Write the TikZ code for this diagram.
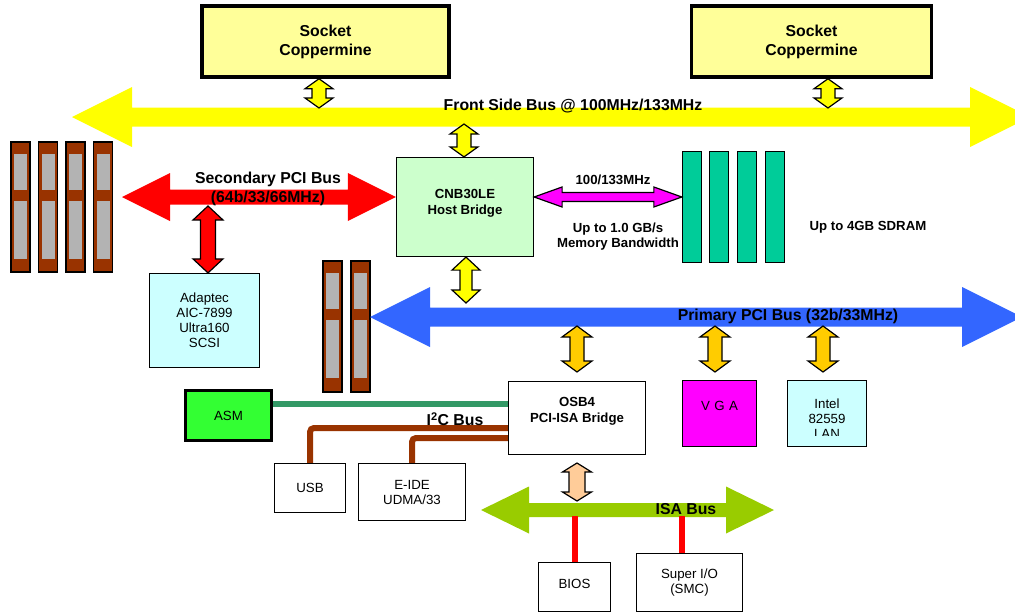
\documentclass[tikz,border=0pt]{standalone}
\usepackage{fontspec}
\setmainfont{Liberation Sans}
\usetikzlibrary{calc}
\definecolor{sockfill}{HTML}{FFFF99}
\definecolor{yel}{HTML}{FFFF00}
\definecolor{cnbgreen}{HTML}{CCFFCC}
\definecolor{busred}{HTML}{FF0000}
\definecolor{mag}{HTML}{FF00FF}
\definecolor{memgreen}{HTML}{00CC99}
\definecolor{slotbrown}{HTML}{993300}
\definecolor{slotgray}{HTML}{B3B3B3}
\definecolor{cyanbox}{HTML}{CCFFFF}
\definecolor{pciblue}{HTML}{3366FF}
\definecolor{orng}{HTML}{FFCC00}
\definecolor{asmgreen}{HTML}{33FF33}
\definecolor{i2cgreen}{HTML}{339966}
\definecolor{peach}{HTML}{FFCC99}
\definecolor{isagreen}{HTML}{99CC00}
% vertical double block arrow: #1 top, #2 bottom, #3 style, #4 half shaft, #5 half head, #6 head length
\newcommand{\vdarr}[6]{%
  \path[draw=black,line width=1.2pt,line join=miter,#3] let \p1=(#1), \p2=(#2) in
  (\x1,\y1) -- (\x1+#5pt,\y1-#6pt) -- (\x1+#4pt,\y1-#6pt) -- (\x1+#4pt,\y2+#6pt)
  -- (\x1+#5pt,\y2+#6pt) -- (\x1,\y2) -- (\x1-#5pt,\y2+#6pt) -- (\x1-#4pt,\y2+#6pt)
  -- (\x1-#4pt,\y1-#6pt) -- (\x1-#5pt,\y1-#6pt) -- cycle;}
% horizontal double block arrow: #1 left tip, #2 right tip, #3 style, #4 half shaft, #5 half head, #6 head length
\newcommand{\hbus}[6]{%
  \path[#3] let \p1=(#1), \p2=(#2) in
  (\x1,\y1) -- (\x1+#6pt,\y1+#5pt) -- (\x1+#6pt,\y1+#4pt) -- (\x2-#6pt,\y1+#4pt)
  -- (\x2-#6pt,\y1+#5pt) -- (\x2,\y1) -- (\x2-#6pt,\y1-#5pt) -- (\x2-#6pt,\y1-#4pt)
  -- (\x1+#6pt,\y1-#4pt) -- (\x1+#6pt,\y1-#5pt) -- cycle;}
% PCI slot: #1 name, #2 x left, #3 y top, #4 height
\newcommand{\pcislot}[4]{%
  \node[slotnode,minimum height=#4pt,anchor=north west] (#1) at (#2,#3) {};
  \fill[slotgray] ($(#1.north west)+(3,11.5)$) rectangle ($(#1.north east)+(-3,47.5)$);
  \fill[slotgray] ($(#1.north west)+(3,58.5)$) rectangle ($(#1.north east)+(-3,117)$);}
\begin{document}
\begin{tikzpicture}[x=1pt,y=-1pt,
  box/.style={draw=black,line width=1.2pt,inner sep=0pt},
  bigb/.style={font=\fontsize{15.8}{19}\selectfont\bfseries,align=center,inner sep=0pt},
  smb/.style={font=\fontsize{13.2}{16}\selectfont\bfseries,align=center,inner sep=0pt},
  reg/.style={font=\fontsize{13.3}{15}\selectfont,align=center,inner sep=0pt},
  slotnode/.style={draw=black,line width=1.4pt,fill=slotbrown,minimum width=19pt,inner sep=0pt,outer sep=0pt},
  memslot/.style={draw=black,line width=1.3pt,fill=memgreen,minimum width=19pt,minimum height=111pt,inner sep=0pt},
  wire/.style={line width=6pt},
]
\useasboundingbox (0,0) rectangle (1015,613);
\clip (0,0) rectangle (1015,613);

% ---- sockets
\node[box,line width=3.5pt,fill=sockfill,minimum width=247pt,minimum height=71pt,
      font=\fontsize{15.8}{19}\selectfont\bfseries,align=center] (s1) at (325.5,41.5) {Socket\\Coppermine};
\node[box,line width=3.5pt,fill=sockfill,minimum width=240pt,minimum height=71pt,
      font=\fontsize{15.8}{19}\selectfont\bfseries,align=center] (s2) at (811.5,41.5) {Socket\\Coppermine};

% ---- front side bus
\hbus{72,117}{1030,117}{fill=yel}{9.5}{30}{60}
\node[bigb] (fsbl) at (573,106) {Front Side Bus @ 100MHz/133MHz};

% ---- host bridge
\node[box,fill=cnbgreen,minimum width=137pt,minimum height=99pt] (cnb) at (465,207) {};
\node[smb] (cnbt) at ([yshift=3.5pt]cnb.center) {CNB30LE\\Host Bridge};

\vdarr{319,0 |- s1.south}{319,108}{fill=yel}{7}{14}{10}
\vdarr{828,0 |- s2.south}{828,108}{fill=yel}{7}{14}{10}
\vdarr{464,124}{464,0 |- cnb.north}{fill=yel}{7}{14}{10}

% ---- memory
\node[memslot] (m1) at (692,207) {};
\node[memslot] (m2) at (719,207) {};
\node[memslot] (m3) at (747,207) {};
\node[memslot] (m4) at (775,207) {};
\hbus{[yshift=10pt]cnb.east}{[yshift=10pt]m1.west}{fill=mag,draw=black,line width=1.2pt}{4.5}{10}{28}
\node[smb] (memf) at (613,180) {100/133MHz};
\node[smb,font=\fontsize{13.2}{15}\selectfont\bfseries] (membw) at (618,236.5) {Up to 1.0 GB/s\\Memory Bandwidth};
\node[smb] (sdram) at (868,227) {Up to 4GB SDRAM};

% ---- secondary PCI
\pcislot{a1}{11}{142}{130}
\pcislot{a2}{38.5}{142}{130}
\pcislot{a3}{66}{142}{130}
\pcislot{a4}{93.5}{142}{130}
\hbus{122,197}{[yshift=10pt]cnb.west}{fill=busred}{7.5}{24}{48}
\node[bigb] (secl) at (268,188.5) {Secondary PCI Bus\\(64b/33/66MHz)};
\node[box,fill=cyanbox,minimum width=110pt,minimum height=94pt,reg] (ad) at (204.5,320.5) {Adaptec\\AIC-7899\\Ultra160\\SCSI};
\vdarr{208,206}{208,0 |- ad.north}{fill=busred}{7.5}{15}{14}

% ---- primary PCI
\pcislot{b1}{323}{261}{131}
\pcislot{b2}{351}{261}{131}
\hbus{b2.east |- 0,317}{1022,317}{fill=pciblue}{9.5}{30}{60}
\node[bigb] (pril) at (788,316) {Primary PCI Bus (32b/33MHz)};
\vdarr{466,0 |- cnb.south}{466,303}{fill=yel}{6}{14}{13}

% ---- boxes on primary PCI
\node[box,fill=white,minimum width=137pt,minimum height=73pt] (osb) at (577,418) {};
\node[smb] (osbt) at ([yshift=7pt]osb.center) {OSB4\\PCI-ISA Bridge};
\node[box,fill=mag,minimum width=74pt,minimum height=66pt] (vga) at (719.5,413.5) {};
\node[reg] (vgat) at ([yshift=8pt]vga.center) {V\,\,G\,\,A};
\node[box,fill=cyanbox,minimum width=79pt,minimum height=66pt] (lan) at (827,413.5) {};
\begin{scope}
  \clip (787,380) rectangle (867,435.5);
  \node[reg] (lant) at ([yshift=-5.5pt]lan.center) {Intel\\82559\\LAN};
\end{scope}
\vdarr{577,326}{577,372}{fill=orng}{7}{15}{11}
\vdarr{715,326}{715,372}{fill=orng}{7}{15}{11}
\vdarr{823,326}{823,372}{fill=orng}{7}{15}{11}

% ---- south side
\node[box,line width=2.2pt,fill=asmgreen,minimum width=86pt,minimum height=50pt,reg] (asm) at (228.5,415.5) {ASM};
\node[box,fill=white,minimum width=71pt,minimum height=49pt,reg] (usb) at (310,488) {USB};
\node[box,fill=white,minimum width=107pt,minimum height=57pt,reg] (eide) at (412,492) {E-IDE\\UDMA/33};
\draw[wire,i2cgreen] (asm.east |- 0,404) -- (osb.west |- 0,404);
\draw[wire,slotbrown,rounded corners=4pt] (osb.west |- 0,428) -| (usb.north);
\draw[wire,slotbrown,rounded corners=4pt] (osb.west |- 0,438) -| (eide.north);
\node[bigb] (i2cl) at (455,419) {I\textsuperscript{2}C Bus};

% ---- ISA
\hbus{481,510}{774,510}{fill=isagreen}{7}{23.5}{48}
\node[bigb] (isal) at (686,509) {ISA Bus};
\vdarr{577,463}{577,501}{fill=peach}{8}{14.5}{9}
\node[box,fill=white,minimum width=72pt,minimum height=49pt] (bios) at (574.5,587) {};
\node[reg] (biost) at ([yshift=3pt]bios.center) {BIOS};
\node[box,fill=white,minimum width=106pt,minimum height=58pt,reg] (sio) at (689.5,582.5) {Super I/O\\(SMC)};
\draw[wire,busred] (574.5,516) -- (bios.north);
\draw[wire,busred] (682,516) -- (682,0 |- sio.north);
\end{tikzpicture}
\end{document}
